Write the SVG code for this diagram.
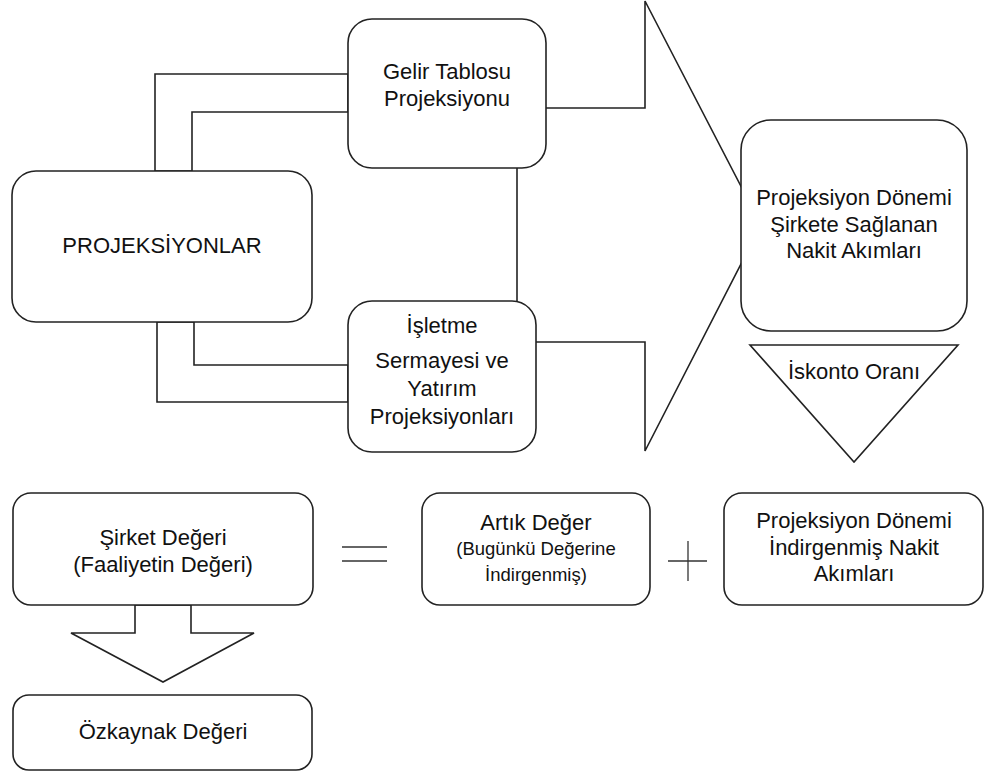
<svg xmlns="http://www.w3.org/2000/svg" width="986" height="775" viewBox="0 0 986 775">
  <style>
    .shape { fill: #ffffff; stroke: #222222; stroke-width: 1.6; stroke-linejoin: miter; }
    .box { fill: #ffffff; stroke: #222222; stroke-width: 1.6; }
    .sign { fill: none; stroke: #333333; stroke-width: 1.3; }
    text { font-family: "Liberation Sans", Arial, sans-serif; font-size: 22px; fill: #111111; text-anchor: middle; }
    .small { font-size: 18.5px; }
  </style>

  <!-- arrows and linking shapes, drawn under the boxes -->
  <g id="connectors">
    <!-- big arrow from the projection boxes to the cash-flow box -->
    <polygon class="shape" points="517,108 645,108 645,1 761,225 645,451 645,342 517,342"/>
    <!-- bent link: PROJEKSİYONLAR to Gelir Tablosu -->
    <polygon class="shape" points="155,171 155,74 348,74 348,112 192,112 192,171"/>
    <!-- bent link: PROJEKSİYONLAR to İşletme Sermayesi -->
    <polygon class="shape" points="157,322 157,402 348,402 348,365 194,365 194,322"/>
    <!-- down arrow: Şirket Değeri to Özkaynak Değeri -->
    <polygon class="shape" points="135,605 135,633 71,633 163,682 254,633 191,633 191,605"/>
    <!-- equals sign -->
    <line class="sign" x1="342" y1="547" x2="387" y2="547"/>
    <line class="sign" x1="342" y1="561" x2="387" y2="561"/>
    <!-- plus sign -->
    <line class="sign" x1="668" y1="561" x2="707" y2="561"/>
    <line class="sign" x1="688" y1="541" x2="688" y2="581"/>
  </g>

  <g id="projeksiyonlar">
    <rect class="box" x="12" y="171" width="300" height="151" rx="24"/>
    <text x="162" y="253">PROJEKSİYONLAR</text>
  </g>

  <g id="gelir-tablosu">
    <rect class="box" x="348" y="19" width="198" height="149" rx="24"/>
    <text x="447" y="79">Gelir Tablosu</text>
    <text x="447" y="106">Projeksiyonu</text>
  </g>

  <g id="isletme-sermayesi">
    <rect class="box" x="348" y="301" width="188" height="151" rx="24"/>
    <text x="442" y="333">İşletme</text>
    <text x="442" y="368">Sermayesi ve</text>
    <text x="442" y="396">Yatırım</text>
    <text x="442" y="424">Projeksiyonları</text>
  </g>

  <g id="nakit-akimlari">
    <rect class="box" x="741" y="120" width="226" height="211" rx="30"/>
    <text x="854" y="205">Projeksiyon Dönemi</text>
    <text x="854" y="232">Şirkete Sağlanan</text>
    <text x="854" y="258">Nakit Akımları</text>
  </g>

  <g id="iskonto-orani">
    <polygon class="shape" points="750,345 958,345 854,462"/>
    <text x="854" y="379">İskonto Oranı</text>
  </g>

  <g id="sirket-degeri">
    <rect class="box" x="13" y="493" width="300" height="112" rx="18"/>
    <text x="163" y="545">Şirket Değeri</text>
    <text x="163" y="572">(Faaliyetin Değeri)</text>
  </g>

  <g id="artik-deger">
    <rect class="box" x="422" y="493" width="228" height="112" rx="18"/>
    <text x="536" y="530">Artık Değer</text>
    <text class="small" x="536" y="555">(Bugünkü Değerine</text>
    <text class="small" x="536" y="581">İndirgenmiş)</text>
  </g>

  <g id="indirgenmis-nakit">
    <rect class="box" x="724" y="493" width="259" height="112" rx="18"/>
    <text x="854" y="528">Projeksiyon Dönemi</text>
    <text x="854" y="555">İndirgenmiş Nakit</text>
    <text x="854" y="581">Akımları</text>
  </g>

  <g id="ozkaynak-degeri">
    <rect class="box" x="13" y="695" width="299" height="75" rx="16"/>
    <text x="163" y="739">Özkaynak Değeri</text>
  </g>
</svg>
